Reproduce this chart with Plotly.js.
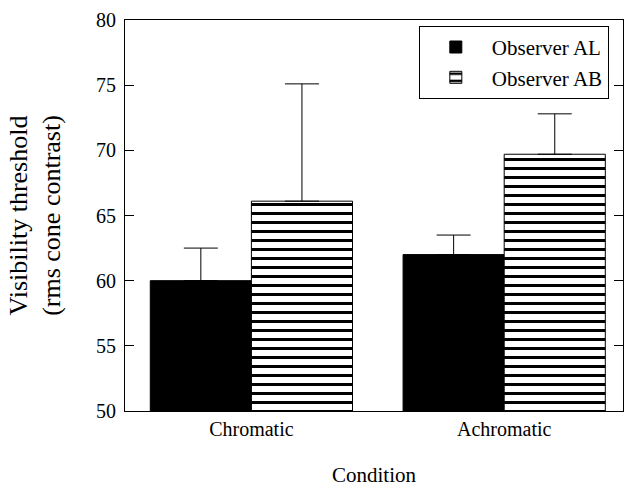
<!DOCTYPE html>
<html>
<head>
<meta charset="utf-8">
<script src="https://cdn.plot.ly/plotly-3.0.1.min.js"></script>
<style>body{margin:0;padding:0;background:#fff}#chart{width:633px;height:487px}</style>
</head>
<body>
<div id="chart"></div>
<script>
var categories = ["Chromatic", "Achromatic"];
var seriesNames = ["Observer AL", "Observer AB"];
var valuesAL = [60.0, 62.0];
var valuesAB = [66.1, 69.7];
var errAL = [2.5, 1.5];
var errAB = [9.0, 3.1];
var yTicks = [50, 55, 60, 65, 70, 75, 80];

var font = "Liberation Serif, Times New Roman, serif";

var traces = [
  {
    type: "bar", name: seriesNames[0], x: categories, y: valuesAL,
    marker: {color: "#000000", line: {color: "#000000", width: 1}},
    error_y: {type: "data", array: errAL, symmetric: false, arrayminus: [0, 0], color: "#000000", thickness: 1, width: 17}
  },
  {
    type: "bar", name: seriesNames[1], x: categories, y: valuesAB,
    marker: {color: "#ffffff", line: {color: "#000000", width: 1},
      pattern: {shape: "-", fgcolor: "#000000", fgopacity: 1, bgcolor: "#ffffff", size: 9, solidity: 0.3334, fillmode: "overlay"}},
    error_y: {type: "data", array: errAB, symmetric: false, arrayminus: [0, 0], color: "#000000", thickness: 1, width: 17}
  }
];

var layout = {
  width: 633, height: 487,
  margin: {l: 125, r: 10, t: 20, b: 76},
  paper_bgcolor: "#ffffff", plot_bgcolor: "#ffffff",
  font: {family: font, size: 20, color: "#000000"},
  barmode: "group", bargap: 0.2, bargroupgap: 0,
  showlegend: true,
  legend: {x: 0.59, y: 0.985, xanchor: "left", yanchor: "top", bordercolor: "#000000", borderwidth: 1,
    bgcolor: "#ffffff", font: {family: font, size: 21}, tracegroupgap: 0, itemwidth: 62},
  xaxis: {
    type: "category", range: [-0.5, 1.47], showline: true, linecolor: "#000000", linewidth: 1,
    mirror: true, ticks: "", showgrid: false, zeroline: false,
    tickfont: {family: font, size: 20},
    title: {text: "Condition", font: {family: font, size: 21}, standoff: 33}
  },
  yaxis: {
    range: [50, 80], tickvals: yTicks, ticktext: yTicks.map(String),
    showline: true, linecolor: "#000000", linewidth: 1, mirror: "ticks",
    ticks: "inside", ticklen: 9, tickcolor: "#000000", showgrid: false, zeroline: false,
    tickfont: {family: font, size: 20}, ticklabelstandoff: 4,
    title: {text: "Visibility threshold<br>(rms cone contrast)", font: {family: font, size: 26}, standoff: 27}
  }
};

Plotly.newPlot("chart", traces, layout, {displayModeBar: false, staticPlot: true});
</script>
</body>
</html>
